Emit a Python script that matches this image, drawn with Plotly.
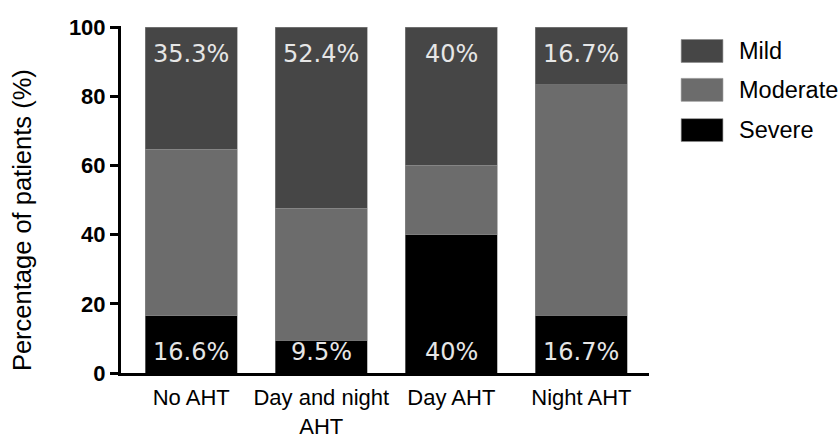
import plotly.graph_objects as go

categories = ["No AHT", "Day and night<br>AHT", "Day AHT", "Night AHT"]
severe = [16.6, 9.5, 40.0, 16.7]
mild = [35.3, 52.4, 40.0, 16.7]
moderate = [100 - s - m for s, m in zip(severe, mild)]
severe_labels = ["16.6%", "9.5%", "40%", "16.7%"]
mild_labels = ["35.3%", "52.4%", "40%", "16.7%"]
series_names = ["Mild", "Moderate", "Severe"]
series_colors = ["#464646", "#6c6c6c", "#000000"]

label_font = dict(family="DejaVu Sans", size=24, color="#e6e6e6")
border = dict(color="#8a8a8a", width=0.6)

fig = go.Figure()
fig.add_trace(go.Bar(x=categories, y=severe, name=series_names[2],
                     marker=dict(color=series_colors[2], line=border)))
fig.add_trace(go.Bar(x=categories, y=moderate, name=series_names[1],
                     marker=dict(color=series_colors[1], line=border)))
fig.add_trace(go.Bar(x=categories, y=mild, name=series_names[0],
                     marker=dict(color=series_colors[0], line=border)))

# value labels: top of stack (mild) and bottom of stack (severe)
for cat, s, mo, m, sl, ml in zip(categories, severe, moderate, mild, severe_labels, mild_labels):
    fig.add_annotation(x=cat, y=s + mo + m, text=ml, showarrow=False,
                       yanchor="middle", yshift=-27, font=label_font)
    fig.add_annotation(x=cat, y=0, text=sl, showarrow=False,
                       yanchor="middle", yshift=21, font=label_font)

fig.update_layout(
    barmode="stack",
    bargap=0.294,
    width=839, height=441,
    margin=dict(l=121, r=190, t=26, b=68),
    plot_bgcolor="white", paper_bgcolor="white",
    showlegend=False,
    font=dict(family="Liberation Sans", color="black"),
    xaxis=dict(
        range=[-0.54, 3.52],
        automargin=False,
        showline=True, linecolor="black", linewidth=3,
        ticks="", tickfont=dict(size=22, family="Liberation Sans"),
        ticklabelstandoff=3,
        showgrid=False, zeroline=False,
    ),
    yaxis=dict(
        range=[0, 100.3],
        automargin=False,
        tickvals=[0, 20, 40, 60, 80, 100],
        showline=True, linecolor="black", linewidth=3,
        ticks="outside", ticklen=8, tickwidth=3, tickcolor="black",
        tickfont=dict(size=22, family="Liberation Sans", weight="bold"),
        showgrid=False, zeroline=False,
    ),
)

# y-axis title (placed slightly below centre as in the reference)
fig.add_annotation(xref="paper", yref="paper", x=-0.186, y=0.44,
                   text="Percentage of patients (%)", textangle=-90, showarrow=False,
                   xanchor="center", yanchor="middle",
                   font=dict(size=25.5, family="Liberation Sans", color="black"))

# custom legend (large swatches like the reference)
legend_y = [0.928, 0.816, 0.700]
for name, color, yy in zip(series_names, series_colors, legend_y):
    fig.add_shape(type="rect", xref="paper", yref="paper",
                  x0=1.061, x1=1.140, y0=yy - 0.033, y1=yy + 0.033,
                  fillcolor=color, line=dict(color="#8a8a8a", width=0.6))
    fig.add_annotation(xref="paper", yref="paper", x=1.166, y=yy,
                       text=name, showarrow=False, xanchor="left", yanchor="middle",
                       font=dict(size=23.5, family="Liberation Sans", color="black"))

fig.write_html("out.html", config={"displayModeBar": False},
               post_script="document.body.style.margin='0';document.body.style.overflow='hidden';")
